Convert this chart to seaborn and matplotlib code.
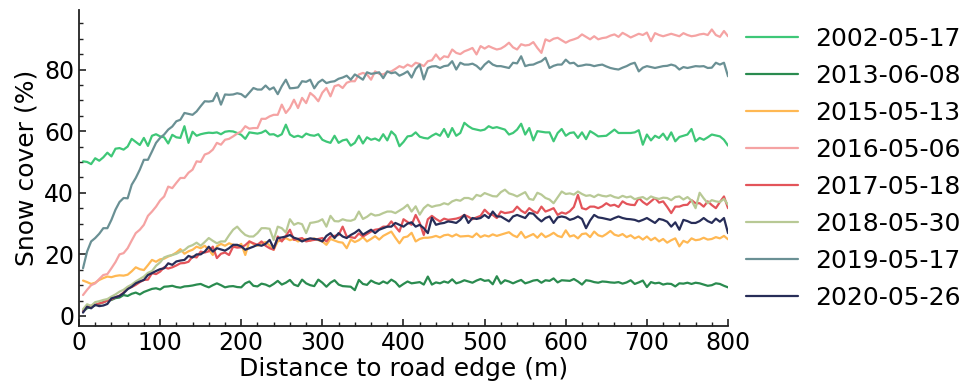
import numpy as np
import pandas as pd
import matplotlib
matplotlib.use("Agg")
import matplotlib.pyplot as plt
from matplotlib.ticker import MultipleLocator
import seaborn as sns

# Distance bins (m) from the road edge
distance = np.arange(5, 801, 5)

# Snow cover (%) per distance bin, one list per acquisition date
cover_2002_05_17 = [
    50.2, 50.0, 49.3, 51.2, 50.4, 51.5, 53.0, 51.8, 54.3, 54.5, 54.0, 55.0, 57.5, 56.5, 55.5, 57.8, 55.2, 58.5, 59.0, 58.3,
    58.0, 56.0, 58.8, 58.0, 57.8, 61.6, 56.2, 59.8, 58.5, 59.0, 59.3, 59.5, 59.4, 59.6, 59.0, 59.8, 60.0, 59.9, 59.4, 58.8,
    57.5, 59.6, 59.4, 59.2, 59.5, 60.2, 58.9, 59.0, 58.3, 59.0, 62.1, 58.9, 58.1, 58.5, 58.0, 59.2, 58.7, 58.5, 59.0, 57.2,
    56.6, 56.2, 58.5, 56.2, 57.0, 57.3, 55.3, 56.2, 58.5, 56.0, 58.0, 57.2, 57.6, 56.9, 59.0, 57.0, 59.9, 58.6, 55.1, 56.5,
    58.3, 58.5, 59.6, 58.2, 57.8, 57.6, 58.5, 59.2, 58.5, 60.7, 58.1, 61.0, 58.5, 59.4, 62.7, 61.6, 60.8, 60.5, 60.2, 60.5,
    61.6, 61.0, 61.3, 60.9, 60.5, 58.9, 59.4, 60.5, 62.4, 58.9, 61.0, 57.0, 60.0, 59.8, 59.6, 59.6, 56.7, 59.4, 60.7, 58.5,
    59.4, 59.6, 57.8, 59.6, 57.4, 60.0, 59.2, 58.3, 58.4, 58.5, 59.5, 60.5, 59.4, 59.4, 59.4, 59.4, 59.6, 60.3, 55.6, 58.9,
    57.0, 58.5, 57.8, 59.2, 57.2, 59.6, 56.7, 58.1, 58.5, 58.9, 60.7, 56.7, 57.8, 57.2, 58.0, 58.9, 58.6, 58.3, 57.2, 55.3,
]

cover_2013_06_08 = [
    1.5, 2.5, 3.0, 3.5, 4.0, 4.5, 5.0, 5.2, 5.8, 6.0, 6.8, 6.5, 7.2, 7.6, 7.0, 7.8, 8.3, 8.8, 9.0, 8.6,
    9.5, 9.6, 9.8, 9.4, 9.2, 9.6, 9.7, 9.9, 10.2, 10.4, 9.8, 9.3, 10.0, 10.6, 10.0, 9.3, 9.6, 9.7, 9.4, 9.3,
    10.6, 11.2, 9.8, 9.6, 10.5, 10.2, 9.6, 10.4, 11.4, 10.2, 10.8, 11.7, 10.2, 9.7, 11.8, 10.6, 10.0, 9.7, 11.8, 10.8,
    9.5, 10.8, 11.6, 10.2, 9.7, 9.6, 9.5, 8.4, 11.7, 10.4, 10.1, 11.5, 10.8, 10.4, 11.2, 10.6, 11.8, 11.0, 9.5, 10.4,
    11.2, 10.6, 10.8, 11.0, 10.2, 12.8, 10.2, 10.9, 10.6, 11.2, 10.8, 11.9, 10.6, 11.0, 11.6, 11.2, 10.8, 11.5, 12.0, 11.4,
    11.6, 10.3, 12.9, 10.5, 11.6, 11.2, 10.6, 11.2, 11.7, 10.6, 11.0, 11.5, 11.7, 10.8, 11.6, 11.4, 12.2, 10.9, 11.6, 11.5,
    11.4, 12.0, 11.2, 10.2, 11.6, 11.4, 11.0, 10.8, 11.2, 11.1, 10.9, 10.8, 11.0, 10.5, 10.9, 11.6, 10.4, 10.9, 11.5, 9.4,
    11.0, 10.6, 10.8, 10.2, 10.5, 10.4, 9.6, 10.6, 10.5, 10.8, 10.4, 10.8, 10.6, 10.2, 9.8, 10.0, 10.6, 10.4, 9.8, 9.3,
]

cover_2015_05_13 = [
    11.5, 11.0, 10.4, 10.8, 11.7, 12.3, 12.8, 12.6, 13.0, 13.2, 13.1, 13.4, 14.5, 15.8, 15.2, 14.9, 16.5, 18.2, 17.6, 18.4,
    18.6, 19.3, 19.8, 20.6, 21.7, 20.2, 21.0, 21.5, 22.5, 22.0, 22.8, 21.5, 19.8, 22.6, 23.4, 22.8, 23.6, 23.1, 22.5, 23.4,
    19.8, 24.2, 23.4, 22.8, 23.6, 24.0, 22.9, 21.5, 24.2, 24.6, 25.3, 24.6, 25.0, 24.2, 24.8, 25.0, 24.4, 25.2, 24.6, 24.2,
    23.1, 25.0, 24.5, 24.0, 23.8, 22.0, 24.8, 24.0, 24.6, 25.6, 24.2, 25.0, 25.9, 24.8, 26.0, 26.7, 27.4, 25.4, 23.6, 25.5,
    25.8, 27.0, 24.2, 25.0, 25.4, 25.4, 25.6, 26.0, 25.5, 26.2, 26.4, 25.8, 26.5, 25.8, 25.9, 26.0, 25.6, 26.8, 25.6, 26.2,
    25.8, 26.5, 26.0, 26.4, 26.8, 27.2, 26.2, 25.6, 27.3, 25.4, 26.0, 26.6, 25.4, 26.8, 25.6, 26.2, 27.0, 26.0, 25.6, 27.8,
    25.8, 26.2, 25.2, 26.6, 26.8, 25.6, 27.4, 26.2, 25.8, 26.6, 27.6, 26.4, 26.0, 26.6, 25.6, 26.2, 25.2, 25.8, 24.8, 25.8,
    24.6, 25.4, 24.2, 25.0, 23.8, 24.6, 25.2, 22.6, 24.4, 23.8, 25.2, 24.6, 24.8, 25.4, 24.8, 25.0, 25.6, 25.2, 26.0, 24.9,
]

cover_2016_05_06 = [
    6.8, 8.5, 10.0, 10.6, 12.0, 13.3, 13.6, 15.5, 17.5, 20.0, 20.4, 22.0, 24.5, 26.9, 28.0, 29.6, 32.5, 33.9, 35.5, 37.5,
    38.8, 42.0, 41.5, 43.2, 44.8, 44.8, 46.5, 47.5, 50.2, 50.0, 52.4, 52.9, 54.0, 56.2, 55.6, 57.2, 57.5, 58.3, 59.2, 59.9,
    61.6, 60.8, 61.0, 61.0, 64.0, 64.0, 64.8, 65.3, 65.3, 68.6, 65.9, 67.5, 70.2, 67.5, 70.8, 69.1, 72.4, 71.3, 69.7, 72.5,
    74.0, 71.3, 74.6, 75.0, 74.0, 75.7, 76.2, 76.2, 78.4, 78.9, 78.4, 76.7, 79.4, 78.6, 78.4, 79.2, 79.4, 80.2, 81.1, 80.6,
    81.6, 81.0, 82.2, 81.8, 81.1, 82.7, 83.0, 84.9, 83.2, 84.3, 84.0, 86.5, 85.4, 85.0, 85.9, 86.4, 87.0, 84.9, 87.6, 86.8,
    87.6, 87.0, 86.5, 86.8, 87.6, 88.7, 87.2, 86.5, 88.2, 87.8, 88.0, 88.9, 87.0, 85.4, 89.8, 89.2, 90.0, 90.3, 89.5, 88.7,
    89.4, 89.8, 90.3, 91.4, 90.6, 89.8, 90.8, 89.8, 90.2, 90.4, 91.0, 91.4, 90.6, 91.9, 91.2, 90.4, 91.0, 91.6, 91.2, 92.0,
    89.2, 91.8, 91.2, 90.8, 91.2, 91.6, 91.2, 90.8, 91.8, 91.2, 90.8, 91.0, 91.4, 91.6, 91.2, 93.0, 91.2, 90.6, 92.5, 90.8,
]

cover_2017_05_18 = [
    1.4, 3.0, 3.3, 3.6, 4.1, 4.4, 5.0, 5.4, 6.1, 6.6, 7.6, 9.0, 9.4, 10.1, 11.0, 11.7, 11.8, 13.9, 13.6, 14.4,
    15.8, 15.4, 15.8, 16.4, 17.1, 17.2, 17.6, 19.3, 19.0, 20.9, 20.6, 21.0, 22.5, 18.8, 20.2, 20.6, 19.8, 22.5, 22.2, 22.3,
    23.0, 24.2, 23.6, 23.1, 24.2, 22.8, 22.0, 21.5, 25.8, 24.2, 26.0, 28.0, 24.7, 25.0, 25.3, 24.2, 24.5, 24.7, 25.0, 25.3,
    24.2, 25.8, 26.0, 26.3, 29.0, 25.8, 25.6, 25.3, 26.8, 25.8, 26.6, 27.4, 28.0, 28.2, 29.0, 29.0, 30.7, 29.0, 27.4, 31.4,
    30.5, 29.6, 32.8, 30.2, 26.3, 31.4, 32.5, 31.5, 30.7, 31.6, 31.2, 31.4, 31.6, 32.0, 32.8, 32.2, 31.4, 32.0, 32.5, 34.5,
    33.2, 32.8, 31.8, 33.9, 33.4, 33.6, 33.9, 35.5, 34.2, 33.4, 35.0, 34.0, 33.4, 35.5, 33.9, 34.4, 35.0, 32.8, 33.6, 33.2,
    34.0, 35.4, 39.3, 35.0, 34.6, 35.5, 35.5, 35.0, 35.6, 36.6, 35.8, 36.1, 35.4, 37.2, 36.4, 36.1, 36.0, 38.3, 37.0, 36.1,
    37.2, 38.3, 36.8, 37.2, 35.4, 33.4, 35.5, 35.5, 36.0, 36.1, 37.6, 36.6, 36.6, 35.5, 37.2, 36.0, 35.0, 37.0, 38.8, 35.0,
]

cover_2018_05_30 = [
    2.2, 3.8, 3.3, 4.5, 4.8, 5.2, 5.5, 6.3, 7.0, 7.9, 8.5, 9.5, 10.2, 11.2, 12.0, 12.8, 14.0, 14.6, 16.3, 17.4,
    19.0, 19.5, 19.8, 20.2, 20.9, 21.4, 22.5, 23.0, 23.8, 22.8, 24.0, 25.3, 24.4, 23.6, 24.2, 24.2, 26.2, 28.0, 29.0, 27.5,
    26.3, 25.8, 25.8, 26.9, 28.5, 28.5, 28.3, 24.7, 29.0, 28.5, 27.1, 31.4, 29.6, 30.2, 29.8, 26.9, 30.2, 30.4, 30.7, 31.4,
    29.0, 32.5, 30.8, 30.7, 31.4, 31.0, 30.9, 31.4, 33.9, 31.5, 32.2, 33.2, 32.6, 32.8, 33.4, 33.9, 33.9, 33.4, 34.2, 35.0,
    36.1, 33.9, 35.6, 32.9, 35.0, 36.1, 35.4, 35.8, 36.0, 36.6, 36.2, 37.2, 37.7, 37.4, 38.3, 38.3, 37.8, 39.3, 38.9, 39.9,
    39.4, 38.9, 38.8, 40.2, 41.0, 39.8, 39.4, 38.8, 39.5, 40.2, 38.0, 37.7, 40.0, 39.4, 38.3, 37.8, 36.6, 38.5, 40.4, 39.6,
    39.8, 39.4, 40.4, 39.6, 39.0, 39.2, 38.6, 39.4, 39.0, 38.8, 39.2, 38.6, 38.3, 39.0, 38.5, 38.8, 37.9, 38.3, 38.6, 37.8,
    38.8, 38.3, 38.0, 38.4, 38.3, 37.6, 38.6, 38.8, 37.8, 38.6, 37.5, 35.0, 40.0, 38.2, 36.6, 37.6, 37.2, 37.0, 38.0, 36.1,
]

cover_2019_05_17 = [
    15.5, 20.9, 24.2, 25.3, 26.7, 28.5, 28.5, 31.2, 34.5, 37.0, 38.3, 38.2, 42.6, 44.8, 47.5, 50.7, 50.7, 53.4, 56.2, 57.8,
    58.9, 60.5, 61.5, 63.2, 63.7, 65.9, 65.6, 65.3, 66.4, 68.1, 69.7, 69.6, 69.8, 72.4, 68.6, 71.9, 71.8, 71.9, 72.3, 72.0,
    71.0, 72.5, 74.0, 73.5, 73.5, 74.8, 73.5, 74.2, 72.0, 74.6, 76.7, 73.9, 74.0, 74.2, 76.2, 76.0, 76.7, 73.9, 75.8, 76.7,
    75.6, 76.0, 76.2, 77.0, 77.4, 78.0, 76.7, 78.4, 77.6, 76.7, 79.1, 78.6, 78.8, 79.1, 77.2, 79.4, 78.8, 79.1, 78.0, 78.6,
    79.4, 77.4, 80.2, 81.6, 76.8, 80.5, 81.0, 81.1, 80.5, 81.1, 81.3, 82.7, 80.0, 82.2, 81.6, 81.6, 81.9, 81.2, 80.0, 81.6,
    82.7, 81.6, 81.1, 81.1, 80.8, 80.5, 82.2, 82.0, 84.3, 81.1, 81.5, 81.6, 82.2, 82.7, 83.8, 80.5, 81.2, 81.6, 81.6, 83.2,
    82.0, 82.2, 81.1, 81.3, 81.6, 81.5, 81.1, 81.4, 81.6, 81.0, 80.5, 80.2, 80.0, 80.6, 81.1, 81.8, 82.2, 79.4, 80.6, 81.1,
    80.8, 80.5, 80.8, 81.1, 81.2, 81.6, 81.2, 80.0, 80.8, 80.5, 80.8, 81.1, 81.0, 81.1, 80.5, 80.6, 82.2, 81.6, 82.2, 77.8,
]

cover_2020_05_26 = [
    1.1, 3.0, 2.5, 3.6, 3.2, 3.4, 3.9, 5.7, 6.1, 6.5, 7.4, 8.7, 9.5, 10.6, 11.2, 11.7, 13.3, 13.9, 14.6, 15.2,
    15.5, 17.1, 16.6, 17.7, 18.0, 18.2, 19.5, 19.0, 20.0, 20.0, 20.9, 22.5, 20.9, 22.0, 21.6, 21.2, 22.0, 23.1, 23.1, 22.6,
    21.5, 22.0, 22.5, 23.1, 22.8, 23.4, 24.7, 22.0, 25.3, 25.5, 25.8, 26.3, 25.4, 25.0, 24.2, 24.8, 25.2, 25.0, 24.8, 24.2,
    26.0, 26.9, 25.3, 26.9, 25.8, 25.3, 26.3, 27.0, 28.0, 26.4, 27.2, 28.0, 26.9, 28.0, 28.5, 29.0, 29.0, 30.2, 29.6, 29.0,
    30.0, 30.4, 29.0, 29.6, 28.5, 26.9, 31.9, 29.6, 30.0, 30.2, 30.7, 30.5, 30.2, 31.2, 32.8, 30.2, 31.8, 31.5, 31.8, 32.8,
    31.8, 33.9, 32.3, 32.3, 31.5, 30.7, 32.3, 32.8, 32.3, 31.8, 33.4, 33.2, 31.8, 30.7, 31.8, 32.3, 30.2, 32.0, 32.3, 32.0,
    31.2, 31.6, 32.3, 31.5, 28.5, 31.0, 32.8, 32.0, 31.8, 31.5, 31.2, 31.8, 32.3, 31.8, 31.5, 31.4, 31.2, 30.7, 31.2, 31.8,
    31.0, 30.2, 31.5, 31.2, 30.6, 29.0, 30.4, 28.0, 31.2, 30.8, 30.2, 30.2, 30.8, 31.8, 30.8, 30.2, 31.6, 30.6, 31.8, 26.9,
]

dates = ["2002-05-17", "2013-06-08", "2015-05-13", "2016-05-06",
         "2017-05-18", "2018-05-30", "2019-05-17", "2020-05-26"]
series = [cover_2002_05_17, cover_2013_06_08, cover_2015_05_13, cover_2016_05_06,
          cover_2017_05_18, cover_2018_05_30, cover_2019_05_17, cover_2020_05_26]
colors = ["#3ec777", "#2a8b4f", "#ffb853", "#f5a3a3",
          "#e3545a", "#b8c995", "#6a9094", "#272d58"]

df = pd.concat(
    [pd.DataFrame({"distance": distance, "cover": vals, "date": d})
     for d, vals in zip(dates, series)],
    ignore_index=True,
)

sns.set_theme(style="ticks")
plt.rcParams["font.family"] = ["DejaVu Sans"]
plt.rcParams["text.color"] = "black"
plt.rcParams["axes.labelcolor"] = "black"

fig = plt.figure(figsize=(9.63, 3.87), dpi=100)
ax = fig.add_axes([0.082, 0.158, 0.674, 0.816])

sns.lineplot(data=df, x="distance", y="cover", hue="date",
             palette=dict(zip(dates, colors)), hue_order=dates,
             estimator=None, linewidth=1.6, ax=ax)

ax.set_xlim(0, 800)
ax.set_ylim(-3.2, 99.3)
ax.xaxis.set_major_locator(MultipleLocator(100))
ax.xaxis.set_minor_locator(MultipleLocator(20))
ax.yaxis.set_major_locator(MultipleLocator(20))
ax.yaxis.set_minor_locator(MultipleLocator(5))
ax.tick_params(which="both", direction="in", colors="#222222", labelcolor="black",
               labelsize=17)
ax.tick_params(which="major", length=5, width=1.2)
ax.tick_params(which="minor", length=3, width=1.0)
for side in ("top", "right"):
    ax.spines[side].set_visible(False)
for side in ("left", "bottom"):
    ax.spines[side].set_linewidth(1.3)
    ax.spines[side].set_color("#222222")

ax.set_xlabel("Distance to road edge (m)", fontsize=18, labelpad=2, color="black")
ax.set_ylabel("Snow cover (%)", fontsize=18, labelpad=4, color="black")

handles, labels = ax.get_legend_handles_labels()
leg = ax.legend(handles, labels, loc="upper left", bbox_to_anchor=(1.027, 0.946),
                frameon=False, fontsize=18, handlelength=2.1, handletextpad=0.7,
                labelspacing=0.52, borderaxespad=0, borderpad=0)
for text in leg.get_texts():
    text.set_color("black")
for line in leg.get_lines():
    line.set_linewidth(1.6)

fig.savefig("out.png", dpi=100)
